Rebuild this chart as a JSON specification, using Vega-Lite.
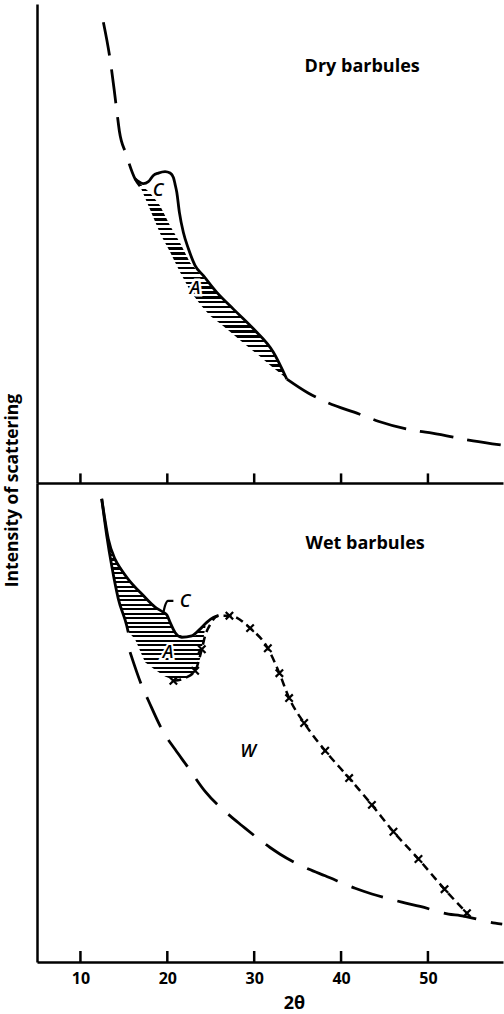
{
  "$schema": "https://vega.github.io/schema/vega-lite/v6.json",
  "background": "white",
  "padding": {"left": 3, "top": 4, "right": 0, "bottom": 0},
  "spacing": 0,
  "bounds": "flush",
  "config": {
    "view": {"stroke": null},
    "font": "Open Sans",
    "axis": {"grid": false, "domainColor": "black", "domainWidth": 2.5, "tickColor": "black", "tickWidth": 2.5, "labelColor": "black", "titleColor": "black"},
    "area": {"strokeWidth": 0, "fill": {"gradient": "linear", "x1": 0, "y1": 0, "x2": 0, "y2": 1, "stops": [
      {"offset":0,"color":"#000"},{"offset":0.012,"color":"#000"},{"offset":0.012,"color":"#fff"},{"offset":0.025,"color":"#fff"},
      {"offset":0.025,"color":"#000"},{"offset":0.037,"color":"#000"},{"offset":0.037,"color":"#fff"},{"offset":0.05,"color":"#fff"},
      {"offset":0.05,"color":"#000"},{"offset":0.062,"color":"#000"},{"offset":0.062,"color":"#fff"},{"offset":0.075,"color":"#fff"},
      {"offset":0.075,"color":"#000"},{"offset":0.087,"color":"#000"},{"offset":0.087,"color":"#fff"},{"offset":0.1,"color":"#fff"},
      {"offset":0.1,"color":"#000"},{"offset":0.112,"color":"#000"},{"offset":0.112,"color":"#fff"},{"offset":0.125,"color":"#fff"},
      {"offset":0.125,"color":"#000"},{"offset":0.137,"color":"#000"},{"offset":0.137,"color":"#fff"},{"offset":0.15,"color":"#fff"},
      {"offset":0.15,"color":"#000"},{"offset":0.162,"color":"#000"},{"offset":0.162,"color":"#fff"},{"offset":0.175,"color":"#fff"},
      {"offset":0.175,"color":"#000"},{"offset":0.187,"color":"#000"},{"offset":0.187,"color":"#fff"},{"offset":0.2,"color":"#fff"},
      {"offset":0.2,"color":"#000"},{"offset":0.212,"color":"#000"},{"offset":0.212,"color":"#fff"},{"offset":0.225,"color":"#fff"},
      {"offset":0.225,"color":"#000"},{"offset":0.237,"color":"#000"},{"offset":0.237,"color":"#fff"},{"offset":0.25,"color":"#fff"},
      {"offset":0.25,"color":"#000"},{"offset":0.262,"color":"#000"},{"offset":0.262,"color":"#fff"},{"offset":0.275,"color":"#fff"},
      {"offset":0.275,"color":"#000"},{"offset":0.287,"color":"#000"},{"offset":0.287,"color":"#fff"},{"offset":0.3,"color":"#fff"},
      {"offset":0.3,"color":"#000"},{"offset":0.312,"color":"#000"},{"offset":0.312,"color":"#fff"},{"offset":0.325,"color":"#fff"},
      {"offset":0.325,"color":"#000"},{"offset":0.337,"color":"#000"},{"offset":0.337,"color":"#fff"},{"offset":0.35,"color":"#fff"},
      {"offset":0.35,"color":"#000"},{"offset":0.362,"color":"#000"},{"offset":0.362,"color":"#fff"},{"offset":0.375,"color":"#fff"},
      {"offset":0.375,"color":"#000"},{"offset":0.387,"color":"#000"},{"offset":0.387,"color":"#fff"},{"offset":0.4,"color":"#fff"},
      {"offset":0.4,"color":"#000"},{"offset":0.412,"color":"#000"},{"offset":0.412,"color":"#fff"},{"offset":0.425,"color":"#fff"},
      {"offset":0.425,"color":"#000"},{"offset":0.437,"color":"#000"},{"offset":0.437,"color":"#fff"},{"offset":0.45,"color":"#fff"},
      {"offset":0.45,"color":"#000"},{"offset":0.462,"color":"#000"},{"offset":0.462,"color":"#fff"},{"offset":0.475,"color":"#fff"},
      {"offset":0.475,"color":"#000"},{"offset":0.487,"color":"#000"},{"offset":0.487,"color":"#fff"},{"offset":0.5,"color":"#fff"},
      {"offset":0.5,"color":"#000"},{"offset":0.512,"color":"#000"},{"offset":0.512,"color":"#fff"},{"offset":0.525,"color":"#fff"},
      {"offset":0.525,"color":"#000"},{"offset":0.537,"color":"#000"},{"offset":0.537,"color":"#fff"},{"offset":0.55,"color":"#fff"},
      {"offset":0.55,"color":"#000"},{"offset":0.562,"color":"#000"},{"offset":0.562,"color":"#fff"},{"offset":0.575,"color":"#fff"},
      {"offset":0.575,"color":"#000"},{"offset":0.587,"color":"#000"},{"offset":0.587,"color":"#fff"},{"offset":0.6,"color":"#fff"},
      {"offset":0.6,"color":"#000"},{"offset":0.612,"color":"#000"},{"offset":0.612,"color":"#fff"},{"offset":0.625,"color":"#fff"},
      {"offset":0.625,"color":"#000"},{"offset":0.637,"color":"#000"},{"offset":0.637,"color":"#fff"},{"offset":0.65,"color":"#fff"},
      {"offset":0.65,"color":"#000"},{"offset":0.662,"color":"#000"},{"offset":0.662,"color":"#fff"},{"offset":0.675,"color":"#fff"},
      {"offset":0.675,"color":"#000"},{"offset":0.687,"color":"#000"},{"offset":0.687,"color":"#fff"},{"offset":0.7,"color":"#fff"},
      {"offset":0.7,"color":"#000"},{"offset":0.712,"color":"#000"},{"offset":0.712,"color":"#fff"},{"offset":0.725,"color":"#fff"},
      {"offset":0.725,"color":"#000"},{"offset":0.737,"color":"#000"},{"offset":0.737,"color":"#fff"},{"offset":0.75,"color":"#fff"},
      {"offset":0.75,"color":"#000"},{"offset":0.762,"color":"#000"},{"offset":0.762,"color":"#fff"},{"offset":0.775,"color":"#fff"},
      {"offset":0.775,"color":"#000"},{"offset":0.787,"color":"#000"},{"offset":0.787,"color":"#fff"},{"offset":0.8,"color":"#fff"},
      {"offset":0.8,"color":"#000"},{"offset":0.812,"color":"#000"},{"offset":0.812,"color":"#fff"},{"offset":0.825,"color":"#fff"},
      {"offset":0.825,"color":"#000"},{"offset":0.837,"color":"#000"},{"offset":0.837,"color":"#fff"},{"offset":0.85,"color":"#fff"},
      {"offset":0.85,"color":"#000"},{"offset":0.862,"color":"#000"},{"offset":0.862,"color":"#fff"},{"offset":0.875,"color":"#fff"},
      {"offset":0.875,"color":"#000"},{"offset":0.887,"color":"#000"},{"offset":0.887,"color":"#fff"},{"offset":0.9,"color":"#fff"},
      {"offset":0.9,"color":"#000"},{"offset":0.912,"color":"#000"},{"offset":0.912,"color":"#fff"},{"offset":0.925,"color":"#fff"},
      {"offset":0.925,"color":"#000"},{"offset":0.937,"color":"#000"},{"offset":0.937,"color":"#fff"},{"offset":0.95,"color":"#fff"},
      {"offset":0.95,"color":"#000"},{"offset":0.962,"color":"#000"},{"offset":0.962,"color":"#fff"},{"offset":0.975,"color":"#fff"},
      {"offset":0.975,"color":"#000"},{"offset":0.987,"color":"#000"},{"offset":0.987,"color":"#fff"},{"offset":1,"color":"#fff"}
    ]}}
  },
  "datasets": {
    "tickvals": [{"x":10,"lo":0,"hi":2,"hb":2.3},{"x":20,"lo":0,"hi":2,"hb":2.3},{"x":30,"lo":0,"hi":2,"hb":2.3},{"x":40,"lo":0,"hi":2,"hb":2.3},{"x":50,"lo":0,"hi":2,"hb":2.3}],
    "topHatch": [
      {"x":16.86,"y":62.4,"y2":62.0},{"x":18.01,"y":60.6,"y2":57.1},{"x":19.17,"y":57.9,"y2":52.1},{"x":20.32,"y":53.7,"y2":48.2},
      {"x":21.47,"y":50.1,"y2":44.0},{"x":22.62,"y":46.0,"y2":40.2},{"x":23.77,"y":43.7,"y2":37.3},{"x":24.92,"y":41.5,"y2":34.9},
      {"x":26.08,"y":39.1,"y2":33.3},{"x":27.23,"y":37.0,"y2":31.6},{"x":28.38,"y":34.9,"y2":29.8},{"x":29.53,"y":32.8,"y2":28.1},
      {"x":30.68,"y":30.5,"y2":26.4},{"x":31.83,"y":28.1,"y2":24.6},{"x":32.99,"y":24.5,"y2":22.9},{"x":33.79,"y":21.7,"y2":21.7}
    ],
    "topBase": [
      {"x":12.64,"y":96.2,"part":"a"},{"x":13.41,"y":88.5,"part":"a"},{"x":13.87,"y":82.3,"part":"a"},{"x":14.25,"y":76.7,"part":"a"},
      {"x":14.48,"y":73.5,"part":"a"},{"x":15.25,"y":68.7,"part":"a"},{"x":16.29,"y":63.5,"part":"a"},{"x":16.86,"y":62.0,"part":"a"},
      {"x":33.76,"y":21.7,"part":"b"},{"x":36.21,"y":18.8,"part":"b"},{"x":38.28,"y":16.9,"part":"b"},{"x":42.08,"y":14.4,"part":"b"},
      {"x":44.27,"y":12.9,"part":"b"},{"x":48.65,"y":10.9,"part":"b"},{"x":50.49,"y":10.4,"part":"b"},{"x":55.21,"y":8.8,"part":"b"},
      {"x":58.55,"y":7.9,"part":"b"}
    ],
    "topCurve": [
      {"x":16.29,"y":63.5},{"x":17.24,"y":62.5},{"x":17.82,"y":62.9},{"x":18.39,"y":64.2},{"x":18.97,"y":64.7},{"x":19.74,"y":65.0},
      {"x":20.32,"y":64.7},{"x":20.70,"y":63.8},{"x":20.89,"y":62.4},{"x":21.09,"y":60.7},{"x":21.39,"y":56.5},{"x":21.85,"y":52.3},
      {"x":22.43,"y":48.9},{"x":23.20,"y":45.4},{"x":24.15,"y":43.3},{"x":25.70,"y":39.8},{"x":27.61,"y":36.3},{"x":29.91,"y":32.2},
      {"x":32.21,"y":27.3},{"x":33.75,"y":21.7}
    ],
    "topLabels": [
      {"x":18.94,"y":61.0,"t":"C","k":"i"},{"x":23.2,"y":40.5,"t":"A","k":"i"},{"x":42.43,"y":86.8,"t":"Dry barbules","k":"b"}
    ],
    "botHatch": [
      {"x":12.49,"y":96.5,"y2":96.5},{"x":12.95,"y":91.2,"y2":90.0},{"x":13.41,"y":87.3,"y2":84.8},{"x":13.98,"y":84.1,"y2":79.2},
      {"x":14.56,"y":82.6,"y2":74.7},{"x":15.13,"y":81.0,"y2":71.3},{"x":15.48,"y":79.9,"y2":69.0},{"x":16.29,"y":78.4,"y2":67.4},
      {"x":17.44,"y":76.1,"y2":62.6},{"x":18.59,"y":74.1,"y2":61.0},{"x":19.74,"y":72.9,"y2":59.6},{"x":20.32,"y":70.9,"y2":59.2},
      {"x":20.89,"y":68.8,"y2":58.8},{"x":22.04,"y":67.8,"y2":59.1},{"x":23.20,"y":68.1,"y2":60.8},{"x":23.77,"y":69.5,"y2":63.3},
      {"x":24.46,"y":70.9,"y2":70.8}
    ],
    "botCurve": [
      {"x":12.45,"y":96.7},{"x":12.72,"y":93.5},{"x":13.21,"y":88.3},{"x":13.98,"y":84.1},{"x":14.67,"y":82.0},{"x":15.51,"y":79.9},
      {"x":17.24,"y":76.5},{"x":18.59,"y":74.1},{"x":19.55,"y":73.0},{"x":19.97,"y":72.4},{"x":20.32,"y":70.9},{"x":20.89,"y":68.8},
      {"x":21.66,"y":67.8},{"x":22.82,"y":68.1},{"x":23.77,"y":69.5},{"x":24.54,"y":70.9},{"x":25.30,"y":71.9},{"x":25.88,"y":72.3}
    ],
    "botLeft": [
      {"x":12.45,"y":96.7},{"x":13.03,"y":89.0},{"x":13.60,"y":82.7},{"x":14.36,"y":75.8},{"x":15.33,"y":70.2},{"x":15.51,"y":68.8}
    ],
    "botBracket": [
      {"x":19.55,"y":73.0},{"x":19.74,"y":74.4},{"x":20.09,"y":75.4},{"x":20.70,"y":75.4}
    ],
    "botW": [
      {"x":20.70,"y":58.7,"m":1},{"x":22.04,"y":59.3,"m":0},{"x":23.20,"y":60.8,"m":1},{"x":23.97,"y":65.3,"m":1},
      {"x":24.35,"y":68.1,"m":0},{"x":24.92,"y":70.4,"m":0},{"x":25.88,"y":72.3,"m":0},{"x":27.15,"y":72.3,"m":1},
      {"x":29.53,"y":69.7,"m":1},{"x":31.57,"y":65.5,"m":1},{"x":32.90,"y":60.3,"m":1},{"x":34.02,"y":55.1,"m":1},
      {"x":35.75,"y":49.9,"m":1},{"x":38.17,"y":44.1,"m":1},{"x":40.93,"y":38.4,"m":1},{"x":43.55,"y":32.8,"m":1},
      {"x":46.03,"y":27.2,"m":1},{"x":48.91,"y":21.5,"m":1},{"x":51.91,"y":15.2,"m":1},{"x":54.49,"y":10.2,"m":1}
    ],
    "botBase": [
      {"x":15.71,"y":64.7},{"x":17.06,"y":57.7},{"x":17.82,"y":54.6},{"x":19.55,"y":48.0},{"x":20.89,"y":44.4},{"x":22.24,"y":41.0},
      {"x":24.35,"y":35.6},{"x":27.23,"y":30.5},{"x":28.57,"y":28.5},{"x":31.83,"y":23.9},{"x":32.99,"y":22.5},{"x":36.25,"y":19.4},
      {"x":38.17,"y":18.0},{"x":41.62,"y":15.4},{"x":43.55,"y":14.2},{"x":47.00,"y":12.5},{"x":49.11,"y":11.6},{"x":52.37,"y":10.0},
      {"x":53.72,"y":9.7},{"x":57.75,"y":8.1},{"x":58.55,"y":7.9}
    ],
    "botLabels": [
      {"x":22.04,"y":75.2,"t":"C","k":"i"},{"x":20.09,"y":64.5,"t":"A","k":"i"},{"x":29.3,"y":43.8,"t":"W","k":"i"},
      {"x":42.77,"y":87.3,"t":"Wet barbules","k":"b"}
    ],
    "one": [{"a": 1}]
  },
  "vconcat": [
    {
      "width": 466,
      "height": 479,
      "encoding": {
        "x": {"field": "x", "type": "quantitative", "scale": {"domain": [5, 58.64], "nice": false, "zero": false},
              "axis": {"values": [10, 20, 30, 40, 50], "labels": false, "ticks": false, "title": null}},
        "y": {"field": "y", "type": "quantitative", "scale": {"domain": [0, 100], "nice": false, "zero": false},
              "axis": {"ticks": false, "labels": false, "title": "Intensity of scattering", "titleX": -25, "titleY": 486,
                       "titleAngle": 270, "titleBaseline": "middle", "titleAlign": "center", "titleFont": "Open Sans", "titleFontSize": 17.5, "titleFontWeight": "bold"}}
      },
      "layer": [
        {"data": {"name": "topHatch"}, "mark": {"type": "area"}, "encoding": {"y2": {"field": "y2"}}},
        {"data": {"name": "topBase"}, "mark": {"type": "line", "color": "black", "strokeWidth": 2.8, "strokeDash": [34, 14], "interpolate": "monotone"},
         "encoding": {"detail": {"field": "part"}}},
        {"data": {"name": "topCurve"}, "mark": {"type": "line", "color": "black", "strokeWidth": 2.8, "interpolate": "monotone"}},
        {"data": {"name": "one"}, "mark": {"type": "rule", "color": "black", "strokeWidth": 2.5},
         "encoding": {"x": {"datum": 5}, "x2": {"datum": 58.64}, "y": {"datum": 100}}},
        {"data": {"name": "tickvals"}, "mark": {"type": "rule", "color": "black", "strokeWidth": 2.5},
         "encoding": {"y": {"field": "lo", "type": "quantitative"}, "y2": {"field": "hi"}}},
        {"data": {"name": "topLabels"}, "transform": [{"filter": "datum.k === 'i'"}],
         "mark": {"type": "text", "font": "Open Sans", "fontSize": 18, "fontStyle": "italic", "fontWeight": 600, "color": "white", "stroke": "white", "strokeWidth": 5},
         "encoding": {"text": {"field": "t"}}},
        {"data": {"name": "topLabels"}, "transform": [{"filter": "datum.k === 'i'"}],
         "mark": {"type": "text", "font": "Open Sans", "fontSize": 18, "fontStyle": "italic", "fontWeight": 600, "color": "black"},
         "encoding": {"text": {"field": "t"}}},
        {"data": {"name": "topLabels"}, "transform": [{"filter": "datum.k === 'b'"}],
         "mark": {"type": "text", "font": "Open Sans", "fontSize": 18, "fontWeight": "bold", "color": "black"},
         "encoding": {"text": {"field": "t"}}}
      ]
    },
    {
      "width": 466,
      "height": 479,
      "encoding": {
        "x": {"field": "x", "type": "quantitative", "scale": {"domain": [5, 58.64], "nice": false, "zero": false},
              "axis": {"values": [10, 20, 30, 40, 50], "ticks": false, "labelPadding": 8, "labelFont": "Open Sans", "labelFontSize": 16, "labelFontWeight": "bold",
                       "title": "2θ", "titleFont": "Open Sans", "titleFontSize": 18, "titleFontWeight": "bold", "titleX": 257, "titleY": 41, "titleBaseline": "middle"}},
        "y": {"field": "y", "type": "quantitative", "scale": {"domain": [0, 100], "nice": false, "zero": false},
              "axis": {"ticks": false, "labels": false, "title": null}}
      },
      "layer": [
        {"data": {"name": "botHatch"}, "mark": {"type": "area"}, "encoding": {"y2": {"field": "y2"}}},
        {"data": {"name": "botBase"}, "mark": {"type": "line", "color": "black", "strokeWidth": 2.8, "strokeDash": [33, 15], "interpolate": "monotone"}},
        {"data": {"name": "botCurve"}, "mark": {"type": "line", "color": "black", "strokeWidth": 2.8, "interpolate": "monotone"}},
        {"data": {"name": "botLeft"}, "mark": {"type": "line", "color": "black", "strokeWidth": 2.8, "interpolate": "monotone"}},
        {"data": {"name": "botBracket"}, "mark": {"type": "line", "color": "black", "strokeWidth": 2.2, "interpolate": "monotone"}},
        {"data": {"name": "botW"}, "mark": {"type": "line", "color": "black", "strokeWidth": 2.5, "strokeDash": [8, 5], "interpolate": "monotone"}},
        {"data": {"name": "botW"}, "transform": [{"filter": "datum.m === 1"}],
         "mark": {"type": "point", "shape": "M-1,-1L1,1M-1,1L1,-1", "filled": false, "stroke": "black", "strokeWidth": 2.2, "size": 55, "opacity": 1}},
        {"data": {"name": "tickvals"}, "mark": {"type": "rule", "color": "black", "strokeWidth": 2.5},
         "encoding": {"y": {"field": "lo", "type": "quantitative"}, "y2": {"field": "hb"}}},
        {"data": {"name": "botLabels"}, "transform": [{"filter": "datum.k === 'i'"}],
         "mark": {"type": "text", "font": "Open Sans", "fontSize": 18, "fontStyle": "italic", "fontWeight": 600, "color": "white", "stroke": "white", "strokeWidth": 4},
         "encoding": {"text": {"field": "t"}}},
        {"data": {"name": "botLabels"}, "transform": [{"filter": "datum.k === 'i'"}],
         "mark": {"type": "text", "font": "Open Sans", "fontSize": 18, "fontStyle": "italic", "fontWeight": 600, "color": "black"},
         "encoding": {"text": {"field": "t"}}},
        {"data": {"name": "botLabels"}, "transform": [{"filter": "datum.k === 'b'"}],
         "mark": {"type": "text", "font": "Open Sans", "fontSize": 18, "fontWeight": "bold", "color": "black"},
         "encoding": {"text": {"field": "t"}}}
      ]
    }
  ]
}
